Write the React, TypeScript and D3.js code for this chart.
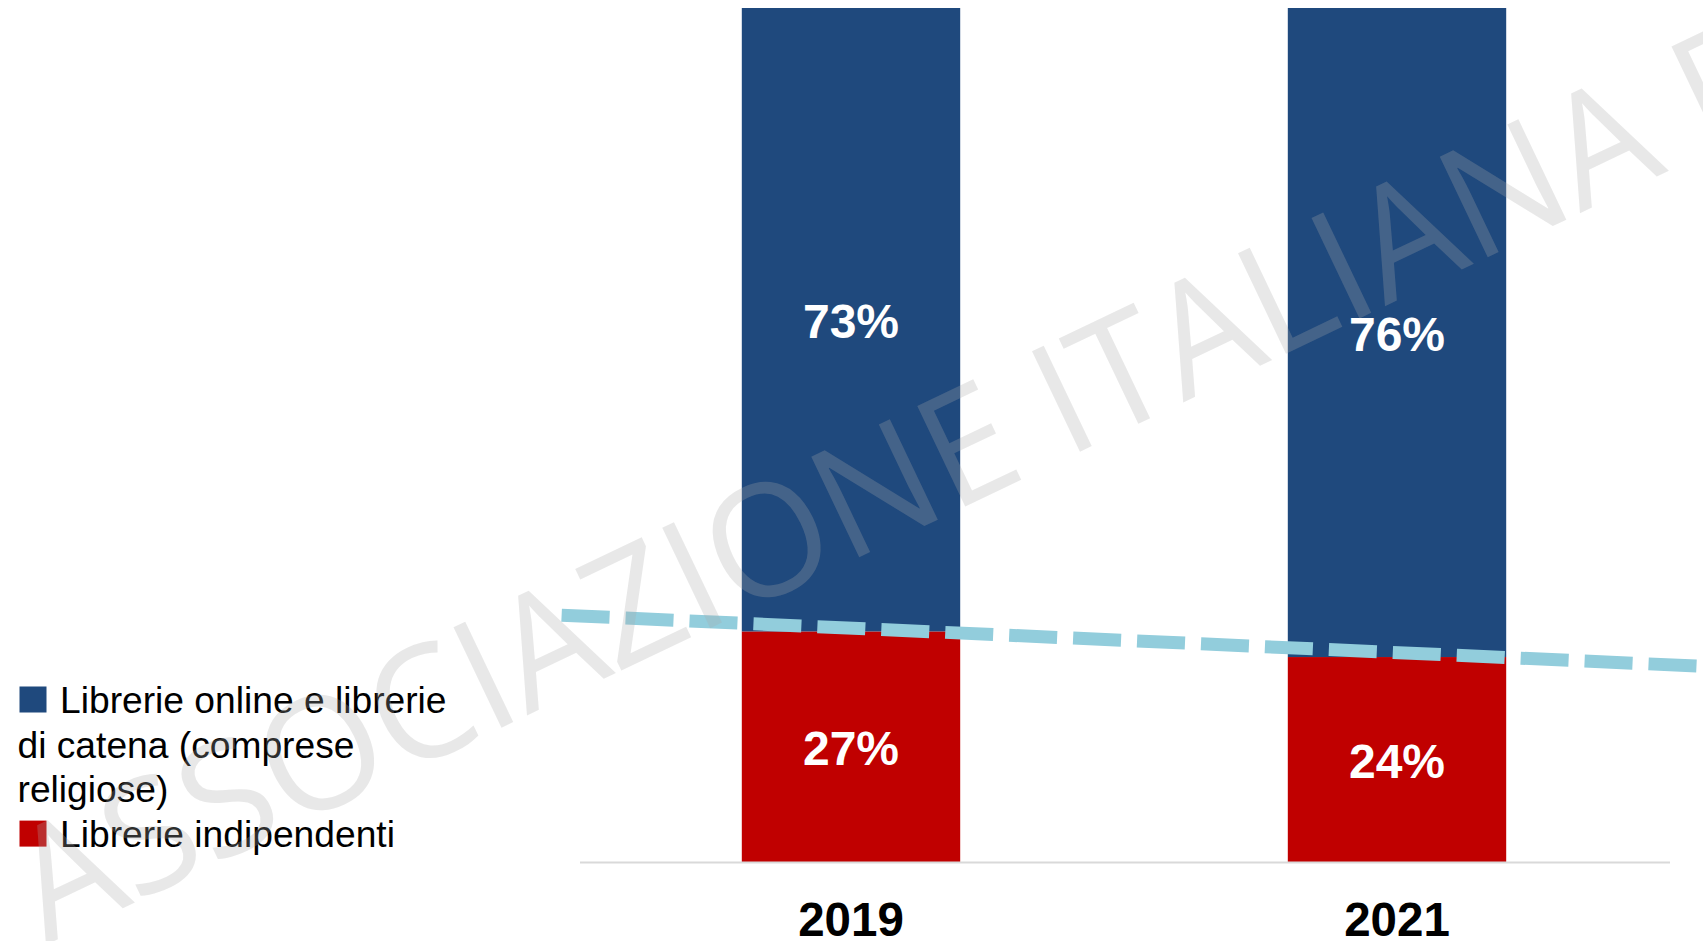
import React from "react";
import * as d3 from "d3";

// data
const years = ["2019", "2021"];
const onlineChain = [73, 76];
const independent = [27, 24];
const legendOnline = ["Librerie online e librerie", "di catena (comprese", "religiose)"];
const legendIndependent = ["Librerie indipendenti"];
// dashed trend line ends, as category positions (0 = 2019, 1 = 2021) and values
const trendPos = [-0.53, 1.6];
const trendVals = [28.9, 22.8];
const watermark = "ASSOCIAZIONE ITALIANA EDITORI";

const BLUE = "#1F497D";
const RED = "#C00000";
const TREND = "#92CDDC";

const App = () => {
  const width = 1703;
  const height = 941;
  const margin = { top: 8, right: 33, bottom: 79, left: 578 };

  const x = d3
    .scaleBand()
    .domain(years)
    .range([margin.left, width - margin.right])
    .paddingInner(0.6)
    .paddingOuter(0.3);

  const y = d3
    .scaleLinear()
    .domain([0, 100])
    .range([height - margin.bottom, margin.top]);

  const bw = x.bandwidth();
  const cx = (i: number) => (x(years[0]) as number) + bw / 2 + i * x.step();

  const trendLine = d3
    .line<number>()
    .x((p) => cx(p))
    .y((_, i) => y(trendVals[i]));

  const labelFont = "'Liberation Sans', Arial, sans-serif";

  return (
    <svg
      width={width}
      height={height}
      style={{ position: "absolute", left: 0, top: 0, background: "#fff" }}
    >
      {/* bars */}
      {years.map((yr, i) => (
        <g key={yr}>
          <rect
            x={x(yr)}
            y={y(independent[i])}
            width={bw}
            height={y(0) - y(independent[i])}
            fill={RED}
          />
          <rect
            x={x(yr)}
            y={y(independent[i] + onlineChain[i])}
            width={bw}
            height={y(independent[i]) - y(independent[i] + onlineChain[i])}
            fill={BLUE}
          />
        </g>
      ))}

      {/* axis line */}
      <line
        x1={margin.left + 2}
        x2={width - margin.right}
        y1={y(0) + 0.5}
        y2={y(0) + 0.5}
        stroke="#D9D9D9"
        strokeWidth={2}
      />

      {/* trend line */}
      <path
        d={trendLine(trendPos) || ""}
        fill="none"
        stroke={TREND}
        strokeWidth={13}
        strokeDasharray="48 16"
      />

      {/* value labels */}
      {years.map((yr, i) => (
        <g key={"lab" + yr} fontFamily={labelFont} fontWeight="bold" fontSize={48} fill="#fff" textAnchor="middle">
          <text x={cx(i)} y={(y(independent[i]) + y(100)) / 2 + 2} dominantBaseline="central">
            {onlineChain[i]}%
          </text>
          <text x={cx(i)} y={(y(0) + y(independent[i])) / 2 + 2} dominantBaseline="central">
            {independent[i]}%
          </text>
        </g>
      ))}

      {/* category labels */}
      {years.map((yr, i) => (
        <text
          key={"yr" + yr}
          x={cx(i)}
          y={936}
          textAnchor="middle"
          fontFamily={labelFont}
          fontWeight="bold"
          fontSize={47.5}
          fill="#000"
        >
          {yr}
        </text>
      ))}

      {/* legend */}
      <g fontFamily={labelFont} fontSize={37.2} fill="#000">
        <rect x={19.5} y={686.5} width={27} height={26} fill={BLUE} />
        {legendOnline.map((t, i) => (
          <text key={t} x={i === 0 ? 60 : 17.5} y={713 + i * 44.7}>
            {t}
          </text>
        ))}
        <rect x={19.5} y={686.5 + 3 * 44.7} width={27} height={26} fill={RED} />
        {legendIndependent.map((t) => (
          <text key={t} x={60} y={713 + 3 * 44.7}>
            {t}
          </text>
        ))}
      </g>

      {/* watermark */}
      <text
        transform="translate(46,945) rotate(-25.5)"
        fontFamily="'Open Sans', sans-serif"
        fontSize={156}
        fill="#aaaaaa"
        fillOpacity={0.27}
      >
        {watermark}
      </text>
    </svg>
  );
};

export default App;
